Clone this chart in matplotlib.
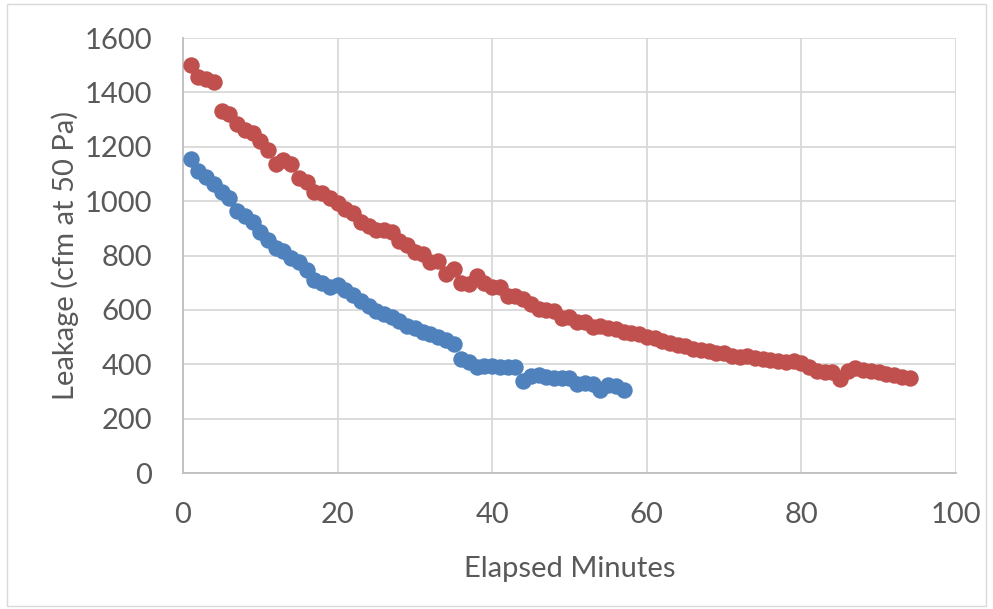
import matplotlib

matplotlib.use("Agg")
import matplotlib.pyplot as plt  # noqa: E402
from matplotlib.patches import Rectangle  # noqa: E402

# red series: minutes 1..94
red_minutes = list(range(1, 95))
red_leakage = [
    1500, 1455, 1450, 1438, 1330, 1320, 1282, 1262, 1250, 1220,
    1188, 1135, 1150, 1135, 1085, 1070, 1035, 1030, 1012, 992,
    970, 955, 925, 910, 895, 895, 885, 855, 840, 812,
    805, 775, 780, 732, 750, 700, 695, 725, 700, 685,
    685, 652, 650, 640, 622, 602, 600, 595, 570, 575,
    557, 555, 537, 540, 532, 530, 520, 515, 510, 502,
    495, 487, 478, 470, 468, 457, 452, 447, 440, 442,
    432, 427, 432, 422, 420, 417, 413, 410, 412, 405,
    390, 377, 372, 370, 345, 377, 385, 380, 375, 370,
    365, 360, 352, 350,
]

# blue series: minutes 1..57
blue_minutes = list(range(1, 58))
blue_leakage = [
    1155, 1110, 1090, 1062, 1035, 1010, 965, 945, 925, 887,
    857, 827, 815, 790, 775, 747, 710, 700, 685, 692,
    672, 655, 632, 615, 597, 585, 572, 560, 542, 532,
    520, 510, 500, 490, 475, 418, 410, 390, 395, 395,
    390, 390, 390, 340, 355, 360, 352, 350, 350, 350,
    327, 330, 327, 307, 325, 320, 305,
]

text_grey = "#595959"
plt.rcParams["font.family"] = ["Lato", "DejaVu Sans"]

fig = plt.figure(figsize=(9.93, 6.09), dpi=100)
ax = fig.add_axes([0.1843, 0.2233, 0.7784, 0.7143])

ax.scatter(red_minutes, red_leakage, s=140, color="#C0504D", zorder=3, linewidths=0)
ax.scatter(blue_minutes, blue_leakage, s=140, color="#4F81BD", zorder=3, linewidths=0)

ax.set_xlim(0, 100)
ax.set_ylim(0, 1600)
ax.set_xticks(range(0, 101, 20))
ax.set_yticks(range(0, 1601, 200))
ax.grid(True, color="#D9D9D9", linewidth=1.3, zorder=0)
ax.set_axisbelow(True)

for side in ("top", "right"):
    ax.spines[side].set_visible(False)
for side in ("left", "bottom"):
    ax.spines[side].set_color("#BFBFBF")
    ax.spines[side].set_linewidth(1.3)

ax.tick_params(axis="both", length=0, labelsize=21, labelcolor=text_grey)
ax.tick_params(axis="y", pad=22)
ax.tick_params(axis="x", pad=21)

ax.set_xlabel("Elapsed Minutes", fontsize=21, color=text_grey, labelpad=20)
ax.set_ylabel("Leakage (cfm at 50 Pa)", fontsize=21, color=text_grey, labelpad=4)

# chart area border
fig.patches.append(Rectangle((0.007, 0.005), 0.986, 0.988, transform=fig.transFigure,
                             fill=False, edgecolor="#D9D9D9", linewidth=1))

fig.savefig("out.png", dpi=100, facecolor="white")
